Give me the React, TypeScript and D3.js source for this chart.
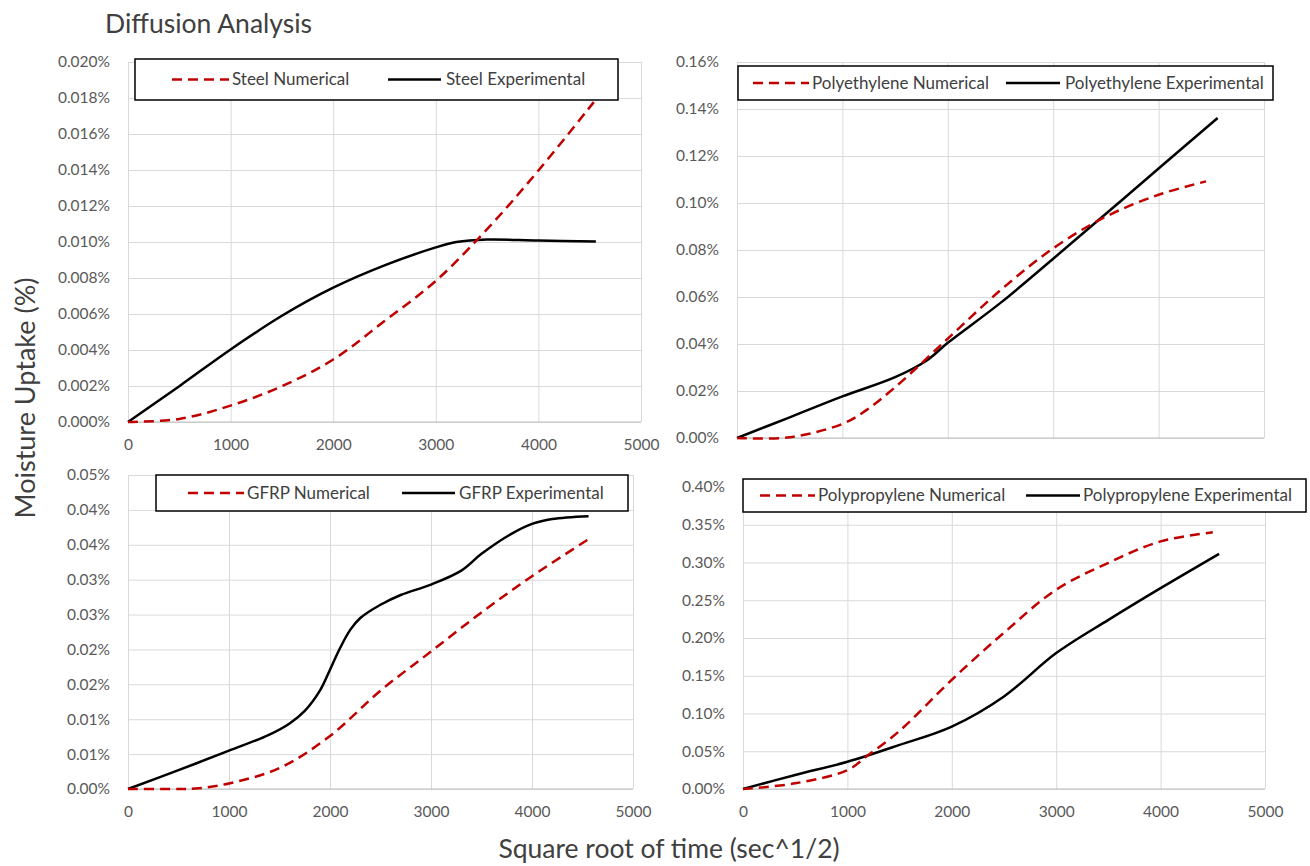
import React, { useRef, useEffect } from "react";
import * as d3 from "d3";

// x: square root of time (sec^1/2), y: moisture uptake (%)
const steelNumX = [0, 500, 1000, 1500, 2000, 2500, 3000, 3500, 4000, 4540];
const steelNumY = [0, 0.00017, 0.00091, 0.00199, 0.00347, 0.00561, 0.00784, 0.01071, 0.01397, 0.01777];
const steelExpX = [0, 500, 1000, 1500, 2000, 2500, 3000, 3200, 3500, 4000, 4560];
const steelExpY = [0, 0.00199, 0.00403, 0.0059, 0.00746, 0.0087, 0.0097, 0.01, 0.01014, 0.01008, 0.01003];

const peNumX = [0, 500, 1000, 1200, 1500, 2000, 2500, 3000, 3500, 4000, 4450];
const peNumY = [0, 0.0003, 0.006, 0.011, 0.0216, 0.0423, 0.0629, 0.0807, 0.0942, 0.1035, 0.1092];
const peExpX = [0, 500, 1000, 1500, 1800, 2000, 2500, 3000, 3500, 4000, 4560];
const peExpY = [0, 0.0088, 0.0177, 0.0259, 0.033, 0.0405, 0.0575, 0.0763, 0.0954, 0.1147, 0.1362];

const gfrpNumX = [0, 500, 700, 1000, 1500, 2000, 2500, 3000, 3500, 4000, 4560];
const gfrpNumY = [0, 0, 0.0001, 0.0008, 0.003, 0.0076, 0.0141, 0.0197, 0.0253, 0.0305, 0.0358];
const gfrpExpX = [0, 500, 1000, 1400, 1600, 1750, 1900, 2000, 2100, 2200, 2300, 2500, 2700, 3000, 3300, 3500, 3800, 4000, 4200, 4560];
const gfrpExpY = [0, 0.0027, 0.0055, 0.0078, 0.0094, 0.0112, 0.0141, 0.0171, 0.0202, 0.0228, 0.0245, 0.0264, 0.0278, 0.0293, 0.0313, 0.0337, 0.0366, 0.038, 0.0387, 0.0391];

const ppNumX = [0, 500, 1000, 1200, 1500, 2000, 2500, 3000, 3500, 4000, 4500];
const ppNumY = [0, 0.0075, 0.025, 0.045, 0.077, 0.1447, 0.207, 0.264, 0.2996, 0.328, 0.34];
const ppExpX = [0, 500, 1000, 1500, 2000, 2500, 3000, 3500, 4000, 4560];
const ppExpY = [0, 0.0186, 0.036, 0.0584, 0.0827, 0.1226, 0.18, 0.224, 0.266, 0.3115];

const xTicks = [0, 1000, 2000, 3000, 4000, 5000];
const steelTicks = [0, 0.002, 0.004, 0.006, 0.008, 0.01, 0.012, 0.014, 0.016, 0.018, 0.02];
const peTicks = [0, 0.02, 0.04, 0.06, 0.08, 0.1, 0.12, 0.14, 0.16];
const gfrpTicks = [0, 0.005, 0.01, 0.015, 0.02, 0.025, 0.03, 0.035, 0.04, 0.045];
const ppTicks = [0, 0.05, 0.1, 0.15, 0.2, 0.25, 0.3, 0.35, 0.4];

const zip = (xs: number[], ys: number[]) => xs.map((v, i) => [v, ys[i]] as [number, number]);

const panels = [
  {
    name: "Steel", num: zip(steelNumX, steelNumY), exp: zip(steelExpX, steelExpY), ticks: steelTicks, digits: 3,
    left: 128, right: 641, top: 62, bottom: 422, xLabels: true,
    lg: { x: 135, y: 59, w: 483, h: 41, n0: 172, n1: 229, nt: 232, e0: 388, e1: 441, et: 446 },
  },
  {
    name: "Polyethylene", num: zip(peNumX, peNumY), exp: zip(peExpX, peExpY), ticks: peTicks, digits: 2,
    left: 737, right: 1264, top: 62, bottom: 438, xLabels: false,
    lg: { x: 738, y: 66, w: 535, h: 34, n0: 753, n1: 809, nt: 812, e0: 1006, e1: 1060, et: 1065 },
  },
  {
    name: "GFRP", num: zip(gfrpNumX, gfrpNumY), exp: zip(gfrpExpX, gfrpExpY), ticks: gfrpTicks, digits: 2,
    left: 128, right: 633, top: 475, bottom: 789, xLabels: true,
    lg: { x: 156, y: 475, w: 472, h: 36, n0: 188, n1: 244, nt: 247, e0: 402, e1: 455, et: 459 },
  },
  {
    name: "Polypropylene", num: zip(ppNumX, ppNumY), exp: zip(ppExpX, ppExpY), ticks: ppTicks, digits: 2,
    left: 743, right: 1265, top: 487, bottom: 789, xLabels: true,
    lg: { x: 743, y: 479, w: 563, h: 33, n0: 760, n1: 815, nt: 818, e0: 1026, e1: 1080, et: 1083 },
  },
];

const FONT = "Lato, 'Open Sans', sans-serif";

const App = () => {
  const svgRef = useRef<SVGSVGElement>(null);

  useEffect(() => {
    const svg = d3.select(svgRef.current);
    svg.selectAll("*").remove();

    panels.forEach((p) => {
      const x = d3.scaleLinear().domain([0, 5000]).range([p.left, p.right]);
      const y = d3.scaleLinear().domain([0, p.ticks[p.ticks.length - 1]]).range([p.bottom, p.top]);
      const fmt = (v: number) => {
        const k = Math.pow(10, p.digits);
        return (Math.round(v * k + 1e-7) / k).toFixed(p.digits) + "%";
      };
      const g = svg.append("g");

      // gridlines
      g.append("g")
        .attr("transform", `translate(0,${p.bottom})`)
        .call(d3.axisBottom(x).tickValues(xTicks).tickSize(-(p.bottom - p.top)).tickFormat(() => ""))
        .call((s) => s.select(".domain").remove())
        .selectAll("line").attr("stroke", "#d9d9d9");
      g.append("g")
        .attr("transform", `translate(${p.left},0)`)
        .call(d3.axisLeft(y).tickValues(p.ticks).tickSize(-(p.right - p.left)).tickFormat(() => ""))
        .call((s) => s.select(".domain").remove())
        .selectAll("line").attr("stroke", "#d9d9d9");
      g.append("line")
        .attr("x1", x(0)).attr("x2", x(5000)).attr("y1", y(0)).attr("y2", y(0))
        .attr("stroke", "#bfbfbf");

      // tick labels
      const ya = g.append("g")
        .attr("transform", `translate(${p.left},0)`)
        .call(d3.axisLeft(y).tickValues(p.ticks).tickSize(0).tickPadding(18).tickFormat((d) => fmt(d as number)));
      ya.select(".domain").remove();
      ya.selectAll("text").attr("font-family", FONT).attr("font-size", 15.5).attr("fill", "#595959");

      if (p.xLabels) {
        const xa = g.append("g")
          .attr("transform", `translate(0,${p.bottom})`)
          .call(d3.axisBottom(x).tickValues(xTicks).tickSize(0).tickPadding(17).tickFormat(d3.format("d")));
        xa.select(".domain").remove();
        xa.selectAll("text").attr("font-family", FONT).attr("font-size", 15.5).attr("fill", "#595959");
      }

      const line = d3.line<[number, number]>()
        .x((d) => x(d[0]))
        .y((d) => y(d[1]))
        .curve(d3.curveCatmullRom.alpha(0.5));

      g.append("path").attr("d", line(p.exp)).attr("fill", "none")
        .attr("stroke", "#000").attr("stroke-width", 2.5);
      g.append("path").attr("d", line(p.num)).attr("fill", "none")
        .attr("stroke", "#c00000").attr("stroke-width", 2.5).attr("stroke-dasharray", "10,6");

      // legend
      const lg = p.lg;
      const cy = lg.y + lg.h / 2;
      const L = g.append("g");
      L.append("rect").attr("x", lg.x).attr("y", lg.y).attr("width", lg.w).attr("height", lg.h)
        .attr("fill", "#fff").attr("stroke", "#000").attr("stroke-width", 1.5);
      L.append("line").attr("x1", lg.n0).attr("x2", lg.n1).attr("y1", cy).attr("y2", cy)
        .attr("stroke", "#c00000").attr("stroke-width", 2.5).attr("stroke-dasharray", "10,6");
      L.append("line").attr("x1", lg.e0).attr("x2", lg.e1).attr("y1", cy).attr("y2", cy)
        .attr("stroke", "#000").attr("stroke-width", 2.5);
      L.append("text").attr("x", lg.nt).attr("y", cy).attr("dy", "0.35em")
        .attr("font-family", FONT).attr("font-size", 17).attr("fill", "#404040")
        .text(`${p.name} Numerical`);
      L.append("text").attr("x", lg.et).attr("y", cy).attr("dy", "0.35em")
        .attr("font-family", FONT).attr("font-size", 17).attr("fill", "#404040")
        .text(`${p.name} Experimental`);
    });

    svg.append("text").attr("x", 105).attr("y", 33)
      .attr("font-family", FONT).attr("font-size", 26.5).attr("fill", "#404040")
      .text("Diffusion Analysis");
    svg.append("text").attr("x", 669).attr("y", 858).attr("text-anchor", "middle")
      .attr("font-family", FONT).attr("font-size", 26.5).attr("fill", "#404040")
      .text("Square root of time (sec^1/2)");
    svg.append("text")
      .attr("transform", "translate(35,398) rotate(-90)")
      .attr("text-anchor", "middle")
      .attr("font-family", FONT).attr("font-size", 27).attr("fill", "#404040")
      .text("Moisture Uptake (%)");
  }, []);

  return (
    <svg
      ref={svgRef}
      width={1310}
      height={866}
      style={{ position: "absolute", left: 0, top: 0, background: "#fff" }}
    />
  );
};

export default App;
